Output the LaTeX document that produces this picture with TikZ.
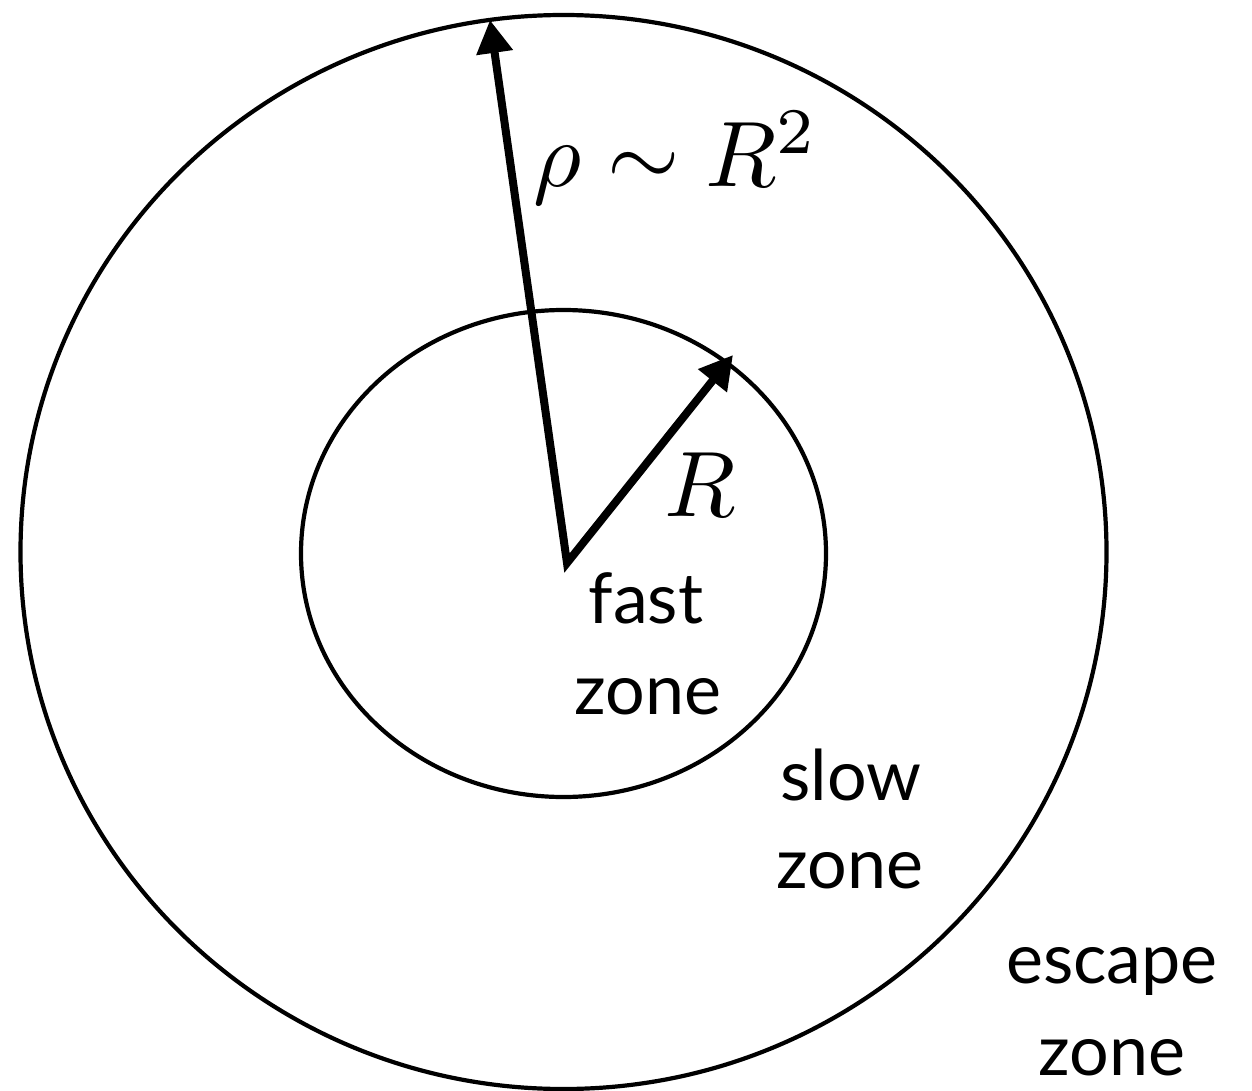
\documentclass[tikz,border=0pt]{standalone}
\usepackage{fontspec}
\newfontfamily\zonefont{Lato}
\usetikzlibrary{arrows.meta}
\begin{document}
\begin{tikzpicture}[x=1pt,y=-1pt,
  ring/.style={line width=4.2pt},
  radius/.style={line width=8pt, line join=miter,
    {Triangle[length=33pt,width=35pt]}-{Triangle[length=33pt,width=35pt]}},
  zonelabel/.style={anchor=base, inner sep=0pt, font=\zonefont\fontsize{70}{84}\selectfont},
  mathlabel/.style={anchor=base, inner sep=0pt, scale=9.3}]
\useasboundingbox (0,0) rectangle (1252,1091);
\coordinate (O) at (563.5,552);
\draw[ring] (O) ellipse [x radius=543, y radius=537];
\draw[ring] (563.5,553.5) ellipse [x radius=262.5, y radius=243.5];
\coordinate (c) at (567,563);
\coordinate (t1) at (490,20);
\coordinate (t2) at (733,355);
\draw[radius] (t1) -- (c) -- (t2);
\node[mathlabel] (rho) at (676,187) {$\rho\sim R^2$};
\node[mathlabel] (R) at (700,516) {$R$};
\node[zonelabel] (fast1) at (646,623) {fast};
\node[zonelabel] (fast2) at (648,714) {zone};
\node[zonelabel] (slow1) at (851,800) {slow};
\node[zonelabel] (slow2) at (850,888) {zone};
\node[zonelabel] (esc1) at (1112,983) {escape};
\node[zonelabel] (esc2) at (1112,1075) {zone};
\end{tikzpicture}
\end{document}
